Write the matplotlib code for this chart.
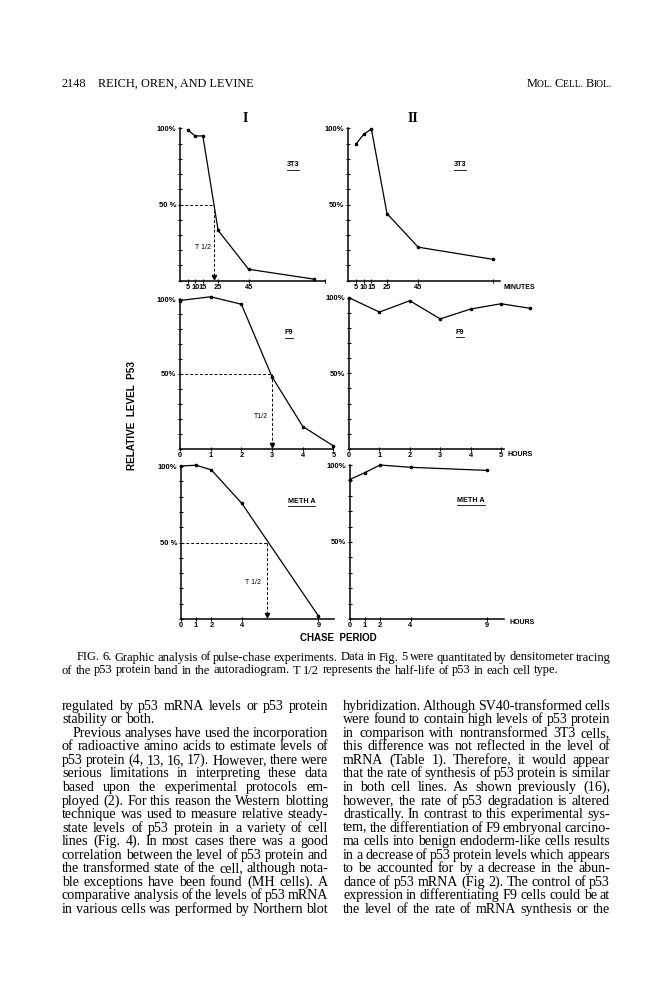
import matplotlib
matplotlib.use('Agg')
import matplotlib.pyplot as plt
from matplotlib.lines import Line2D

W, H = 666, 994
fig = plt.figure(figsize=(W / 100, H / 100), dpi=100)
fig.patch.set_facecolor('white')
renderer = fig.canvas.get_renderer()

SANS = ['Liberation Sans', 'DejaVu Sans']
SERIF = ['Liberation Serif', 'DejaVu Serif']

# ---------------- data ----------------
minute_ticks = [5, 10, 15, 25, 45]
minute_tick_labels = ['5', '10', '15', '25', '45']
hour_ticks_f9 = [0, 1, 2, 3, 4, 5]
hour_ticks_meth = [0, 1, 2, 4, 9]

t_3t3_I = [5, 10, 15, 25, 45, 88]
p_3t3_I = [99, 95, 95, 33, 7.5, 1]
t_3t3_II = [5, 10, 15, 25, 45, 93]
p_3t3_II = [89.5, 96, 99.5, 44, 22, 14]

t_f9_I = [0, 1, 2, 3, 4, 5]
p_f9_I = [99, 101.5, 96.5, 48, 15, 2]
t_f9_II = [0, 1, 2, 3, 4, 5, 5.95]
p_f9_II = [100, 90.5, 98, 86, 92.5, 96, 93]

t_meth_I = [0, 1, 2, 4, 9]
p_meth_I = [100, 100.5, 97.5, 75.5, 2]
t_meth_II = [0, 1, 2, 4, 9]
p_meth_II = [90.5, 95, 100, 98.5, 96.5]

half_life_I = [22.5, 3.0, 5.65]   # 3T3 (min), F9 (h), METH A (h)
cell_names = ['3T3', 'F9', 'METH A']

header_left_num = '2148'
header_left = 'REICH, OREN, AND LEVINE'

caption_lines = [
    'FIG. 6. Graphic analysis of pulse-chase experiments. Data in Fig. 5 were quantitated by densitometer tracing',
    'of the p53 protein band in the autoradiogram. T 1/2 represents the half-life of p53 in each cell type.',
]

left_lines = [
    'regulated by p53 mRNA levels or p53 protein',
    'stability or both.',
    'Previous analyses have used the incorporation',
    'of radioactive amino acids to estimate levels of',
    'p53 protein (4, 13, 16, 17). However, there were',
    'serious limitations in interpreting these data',
    'based upon the experimental protocols em-',
    'ployed (2). For this reason the Western blotting',
    'technique was used to measure relative steady-',
    'state levels of p53 protein in a variety of cell',
    'lines (Fig. 4). In most cases there was a good',
    'correlation between the level of p53 protein and',
    'the transformed state of the cell, although nota-',
    'ble exceptions have been found (MH cells). A',
    'comparative analysis of the levels of p53 mRNA',
    'in various cells was performed by Northern blot',
]
right_lines = [
    'hybridization. Although SV40-transformed cells',
    'were found to contain high levels of p53 protein',
    'in comparison with nontransformed 3T3 cells,',
    'this difference was not reflected in the level of',
    'mRNA (Table 1). Therefore, it would appear',
    'that the rate of synthesis of p53 protein is similar',
    'in both cell lines. As shown previously (16),',
    'however, the rate of p53 degradation is altered',
    'drastically. In contrast to this experimental sys-',
    'tem, the differentiation of F9 embryonal carcino-',
    'ma cells into benign endoderm-like cells results',
    'in a decrease of p53 protein levels which appears',
    'to be accounted for by a decrease in the abun-',
    'dance of p53 mRNA (Fig 2). The control of p53',
    'expression in differentiating F9 cells could be at',
    'the level of the rate of mRNA synthesis or the',
]


def fx(x):
    return x / W


def fy(y):
    return 1 - y / H


def text_w(s, size, fam, weight='normal'):
    t = fig.text(0, 0, s, fontsize=size, family=fam, weight=weight)
    w = t.get_window_extent(renderer).width
    t.remove()
    return w


# ---------------- panels ----------------
def make_ax(x0, x1, ytop, ybot, xmax, ylabels):
    ax = fig.add_axes([fx(x0), fy(ybot), (x1 - x0) / W, (ybot - ytop) / H])
    ax.set_xlim(0, xmax)
    ax.set_ylim(0, 100)
    ax.patch.set_visible(False)
    for s in ('top', 'right'):
        ax.spines[s].set_visible(False)
    for s in ('left', 'bottom'):
        ax.spines[s].set_linewidth(1.1)
    yt = list(range(0, 101, 10))
    ax.set_yticks(yt)
    ax.set_yticklabels([ylabels.get(v, '') for v in yt], fontsize=5.5,
                       fontweight='bold', family=SANS)
    ax.tick_params(axis='y', direction='inout', length=3, width=0.8, pad=1)
    ax.tick_params(axis='x', direction='inout', length=3, width=0.8, pad=0.6)
    return ax


def set_xt(ax, ticks, labels):
    ax.set_xticks(ticks)
    ax.set_xticklabels(labels, fontsize=5.3, fontweight='bold', family=SANS)


def curve(ax, t, p):
    ax.plot(t, p, color='black', lw=0.9, marker='o', ms=1.6, clip_on=False)


def halflife(ax, th):
    ax.plot([0, th], [50, 50], color='black', lw=0.7, ls=(0, (3, 2)))
    ax.plot([th, th], [50, 2], color='black', lw=0.7, ls=(0, (3, 2)))
    ax.plot([th], [2.5], marker='v', ms=3, color='black', clip_on=False)


def underlined(x, y, s, size=5.2):
    t = fig.text(fx(x), fy(y), s, ha='center', va='center', fontsize=size,
                 fontweight='bold', family=SANS)
    bb = t.get_window_extent(renderer)
    fig.add_artist(Line2D([bb.x0 / W, bb.x1 / W], [(bb.y0 - 1.2) / H] * 2,
                          lw=0.6, color='black'))


lab_a = {50: '50 %', 100: '100%'}
lab_b = {50: '50%', 100: '100%'}

# Row 1: 3T3 (minutes)
a = make_ax(180, 180 + 95 * 1.525, 128.3, 280.7, 95, lab_a)
set_xt(a, minute_ticks + [95], minute_tick_labels + [''])
curve(a, t_3t3_I, p_3t3_I)
halflife(a, half_life_I[0])
fig.text(fx(203), fy(247.5), 'T 1/2', fontsize=5, family=SANS, ha='center', va='center')
underlined(293, 165, cell_names[0])

b = make_ax(348, 348 + 97.5 * 1.56, 128.3, 280.7, 97.5, lab_b)
set_xt(b, minute_ticks + [93], minute_tick_labels + [''])
curve(b, t_3t3_II, p_3t3_II)
underlined(460, 165, cell_names[0])
fig.text(fx(503), fy(287), 'MINUTES', fontsize=5, fontweight='bold', family=SANS,
         ha='left', va='center')

# Row 2: F9 (hours)
c = make_ax(180, 180 + 5 * 30.7, 299, 449, 5, lab_b)
set_xt(c, hour_ticks_f9, [str(v) for v in hour_ticks_f9])
curve(c, t_f9_I, p_f9_I)
halflife(c, half_life_I[1])
fig.text(fx(260.5), fy(417), 'T1/2', fontsize=5, family=SANS, ha='center', va='center')
underlined(289, 333, cell_names[1])

d = make_ax(349, 349 + 5.1 * 30.4, 297.7, 449, 5.1, lab_b)
set_xt(d, hour_ticks_f9, [str(v) for v in hour_ticks_f9])
curve(d, t_f9_II, p_f9_II)
underlined(460, 332.5, cell_names[1])
fig.text(fx(508), fy(454), 'HOURS', fontsize=5, fontweight='bold', family=SANS,
         ha='left', va='center')

# Row 3: METH A (hours)
e = make_ax(180.7, 180.7 + 10 * 15.3, 466, 619, 10, lab_a)
set_xt(e, hour_ticks_meth, [str(v) for v in hour_ticks_meth])
curve(e, t_meth_I, p_meth_I)
halflife(e, half_life_I[2])
fig.text(fx(253), fy(583), 'T 1/2', fontsize=5, family=SANS, ha='center', va='center')
underlined(301.5, 501.5, cell_names[2])

f = make_ax(349.5, 349.5 + 10.1 * 15.25, 465, 619, 10.1, lab_b)
set_xt(f, hour_ticks_meth, [str(v) for v in hour_ticks_meth])
curve(f, t_meth_II, p_meth_II)
underlined(471, 500.5, cell_names[2])
fig.text(fx(510), fy(622.5), 'HOURS', fontsize=5, fontweight='bold', family=SANS,
         ha='left', va='center')

# Figure-level labels
fig.text(fx(245), fy(118), 'I', fontsize=10, fontweight='bold', family=SERIF,
         ha='center', va='center')
fig.text(fx(413), fy(118), 'II', fontsize=10, fontweight='bold', family=SERIF,
         ha='center', va='center')
fig.text(fx(132), fy(416), 'RELATIVE  LEVEL  P53', rotation=90, fontsize=7.2,
         fontweight='bold', family=SANS, ha='center', va='center')
fig.text(fx(338), fy(638), 'CHASE  PERIOD', fontsize=7, fontweight='bold',
         family=SANS, ha='center', va='center')

# ---------------- page text ----------------
def fit_size(lines, width, fam, shrink, ref=10.0):
    sp = text_w('a a', ref, fam) - text_w('aa', ref, fam)
    best = 1e9
    for ln in lines:
        ws = ln.split()
        nat = sum(text_w(w, ref, fam) for w in ws) + shrink * sp * (len(ws) - 1)
        best = min(best, width / nat)
    return ref * best


def place_line(line, xl, xr, yb, size, fam, justify):
    words = line.split()
    ws = [text_w(w, size, fam) for w in words]
    sp = text_w('a a', size, fam) - text_w('aa', size, fam)
    if justify and len(words) > 1:
        gap = (xr - xl - sum(ws)) / (len(words) - 1)
    else:
        gap = sp
    x = xl
    for w, wd in zip(words, ws):
        fig.text(fx(x), fy(yb), w, fontsize=size, family=fam, ha='left',
                 va='baseline', color='black')
        x += wd + gap


# header
hsize = 8.8
fig.text(fx(62), fy(87), header_left_num, fontsize=hsize, family=SERIF,
         ha='left', va='baseline')
fig.text(fx(98), fy(87), header_left, fontsize=hsize, family=SERIF,
         ha='left', va='baseline')
sc_parts = [('M', hsize), ('OL. ', hsize * 0.78), ('C', hsize), ('ELL. ', hsize * 0.78),
            ('B', hsize), ('IOL.', hsize * 0.78)]
sc_w = []
for s, sz in sc_parts:
    sc_w.append(text_w(s.replace(' ', '\u00a0'), sz, SERIF))
x = 612 - sum(sc_w)
for (s, sz), wd in zip(sc_parts, sc_w):
    fig.text(fx(x), fy(87), s.replace(' ', '\u00a0'), fontsize=sz, family=SERIF,
             ha='left', va='baseline')
    x += wd

# caption
csize = fit_size([caption_lines[0]], 611 - 77, SERIF, 0.8)
place_line(caption_lines[0], 77, 611, 660.5, csize, SERIF, True)
place_line(caption_lines[1], 62, 611, 673.5, csize, SERIF, False)

# body columns
body_just = [ln for i, ln in enumerate(left_lines) if i != 1] + right_lines
bsize = fit_size(body_just, 266, SERIF, 0.5)
y0, dy = 706, 13.53
for i, ln in enumerate(left_lines):
    xl = 62 + (11 if i == 2 else 0)
    place_line(ln, xl, 328, y0 + i * dy + 3.8, bsize, SERIF, i != 1)
for i, ln in enumerate(right_lines):
    place_line(ln, 343, 610, y0 + i * dy + 3.8, bsize, SERIF, True)

fig.savefig('out.png', dpi=100, facecolor='white')
